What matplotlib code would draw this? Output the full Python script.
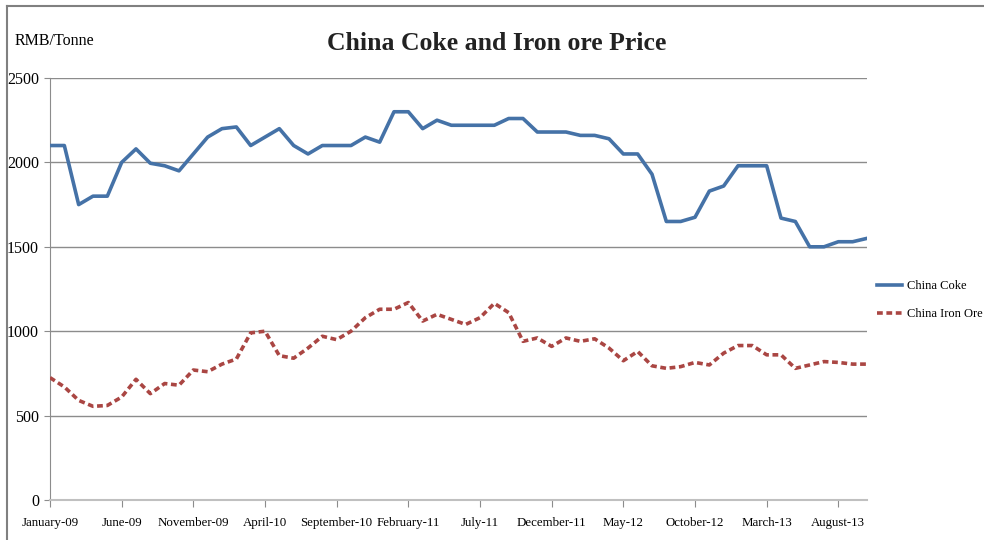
import numpy as np
import matplotlib.pyplot as plt
from matplotlib.lines import Line2D

# monthly prices, Jan-2009 .. Oct-2013 (RMB/Tonne)
month_names = ['January', 'February', 'March', 'April', 'May', 'June', 'July',
               'August', 'September', 'October', 'November', 'December']
n_months = 58

coke = [2100, 2100, 1750, 1800, 1800, 2000, 2080, 1995, 1980, 1950,
        2050, 2150, 2200, 2210, 2100, 2150, 2200, 2100, 2050, 2100,
        2100, 2100, 2150, 2120, 2300, 2300, 2200, 2250, 2220, 2220,
        2220, 2220, 2260, 2260, 2180, 2180, 2180, 2160, 2160, 2140,
        2050, 2050, 1930, 1650, 1650, 1675, 1830, 1860, 1980, 1980,
        1980, 1670, 1650, 1500, 1500, 1530, 1530, 1550]

iron_ore = [725, 670, 590, 555, 560, 610, 715, 630, 690, 680,
            770, 760, 805, 835, 990, 1000, 855, 840, 900, 970,
            950, 1000, 1080, 1130, 1130, 1170, 1060, 1100, 1070, 1040,
            1080, 1165, 1110, 940, 960, 910, 960, 940, 955, 900,
            825, 880, 795, 780, 790, 815, 800, 870, 915, 915,
            860, 860, 780, 800, 820, 815, 805, 805]

# tick labels every 5 months
tick_pos = list(range(0, n_months, 5))
tick_labels = []
for i in tick_pos:
    yr = 9 + i // 12
    tick_labels.append('{}-{:02d}'.format(month_names[i % 12], yr))

plt.rcParams['font.family'] = ['Liberation Serif', 'DejaVu Serif']

fig = plt.figure(figsize=(9.84, 5.4), dpi=100)
ax = fig.add_axes([50/984, 1-500/540, (867-50)/984, (500-78)/540])

x = np.arange(n_months)
dash = (0, (1.6, 1.0))
ax.plot(x, coke, color='#4572a7', lw=2.6, label='China Coke', zorder=3)
ax.plot(x, iron_ore, color='#aa4643', lw=2.6, ls=dash,
        label='China Iron Ore', zorder=3)

ax.set_xlim(0, n_months - 1)
ax.set_ylim(0, 2500)
ax.set_yticks([0, 500, 1000, 1500, 2000, 2500])
ax.yaxis.grid(True, color='#8c8c8c', lw=1)
ax.set_axisbelow(True)
ax.set_xticks(tick_pos)
ax.set_xticklabels(tick_labels, fontsize=9.3)
ax.tick_params(axis='x', length=5, color='#8c8c8c', pad=7)
ax.tick_params(axis='y', length=4, color='#8c8c8c', labelsize=11.5, pad=4)
for s in ['top', 'right']:
    ax.spines[s].set_visible(False)
ax.spines['left'].set_color('#8c8c8c')
ax.spines['bottom'].set_color('#c0c0c0')
ax.spines['bottom'].set_linewidth(1.5)

fig.text(497/984, 1-44/540, 'China Coke and Iron ore Price', fontsize=18.5,
         fontweight='bold', ha='center', va='center', color='#222222')
fig.text(15/984, 1-41/540, 'RMB/Tonne', fontsize=11.5, ha='left', va='center')

fig.legend(handles=[Line2D([], [], color='#4572a7', lw=2.6),
                    Line2D([], [], color='#aa4643', lw=2.6, ls=dash)],
           labels=['China Coke', 'China Iron Ore'],
           loc='center left', bbox_to_anchor=(866/984, 1-300/540), frameon=False,
           fontsize=9, handlelength=2.0, labelspacing=1.3, handletextpad=0.4)

# outer frame: left and top lines
fig.add_artist(Line2D([7/984, 7/984], [0, 1-6/540], color='#808080', lw=1.5))
fig.add_artist(Line2D([7/984, 1], [1-6/540, 1-6/540], color='#808080', lw=1.5))

fig.savefig('out.png', dpi=100)
